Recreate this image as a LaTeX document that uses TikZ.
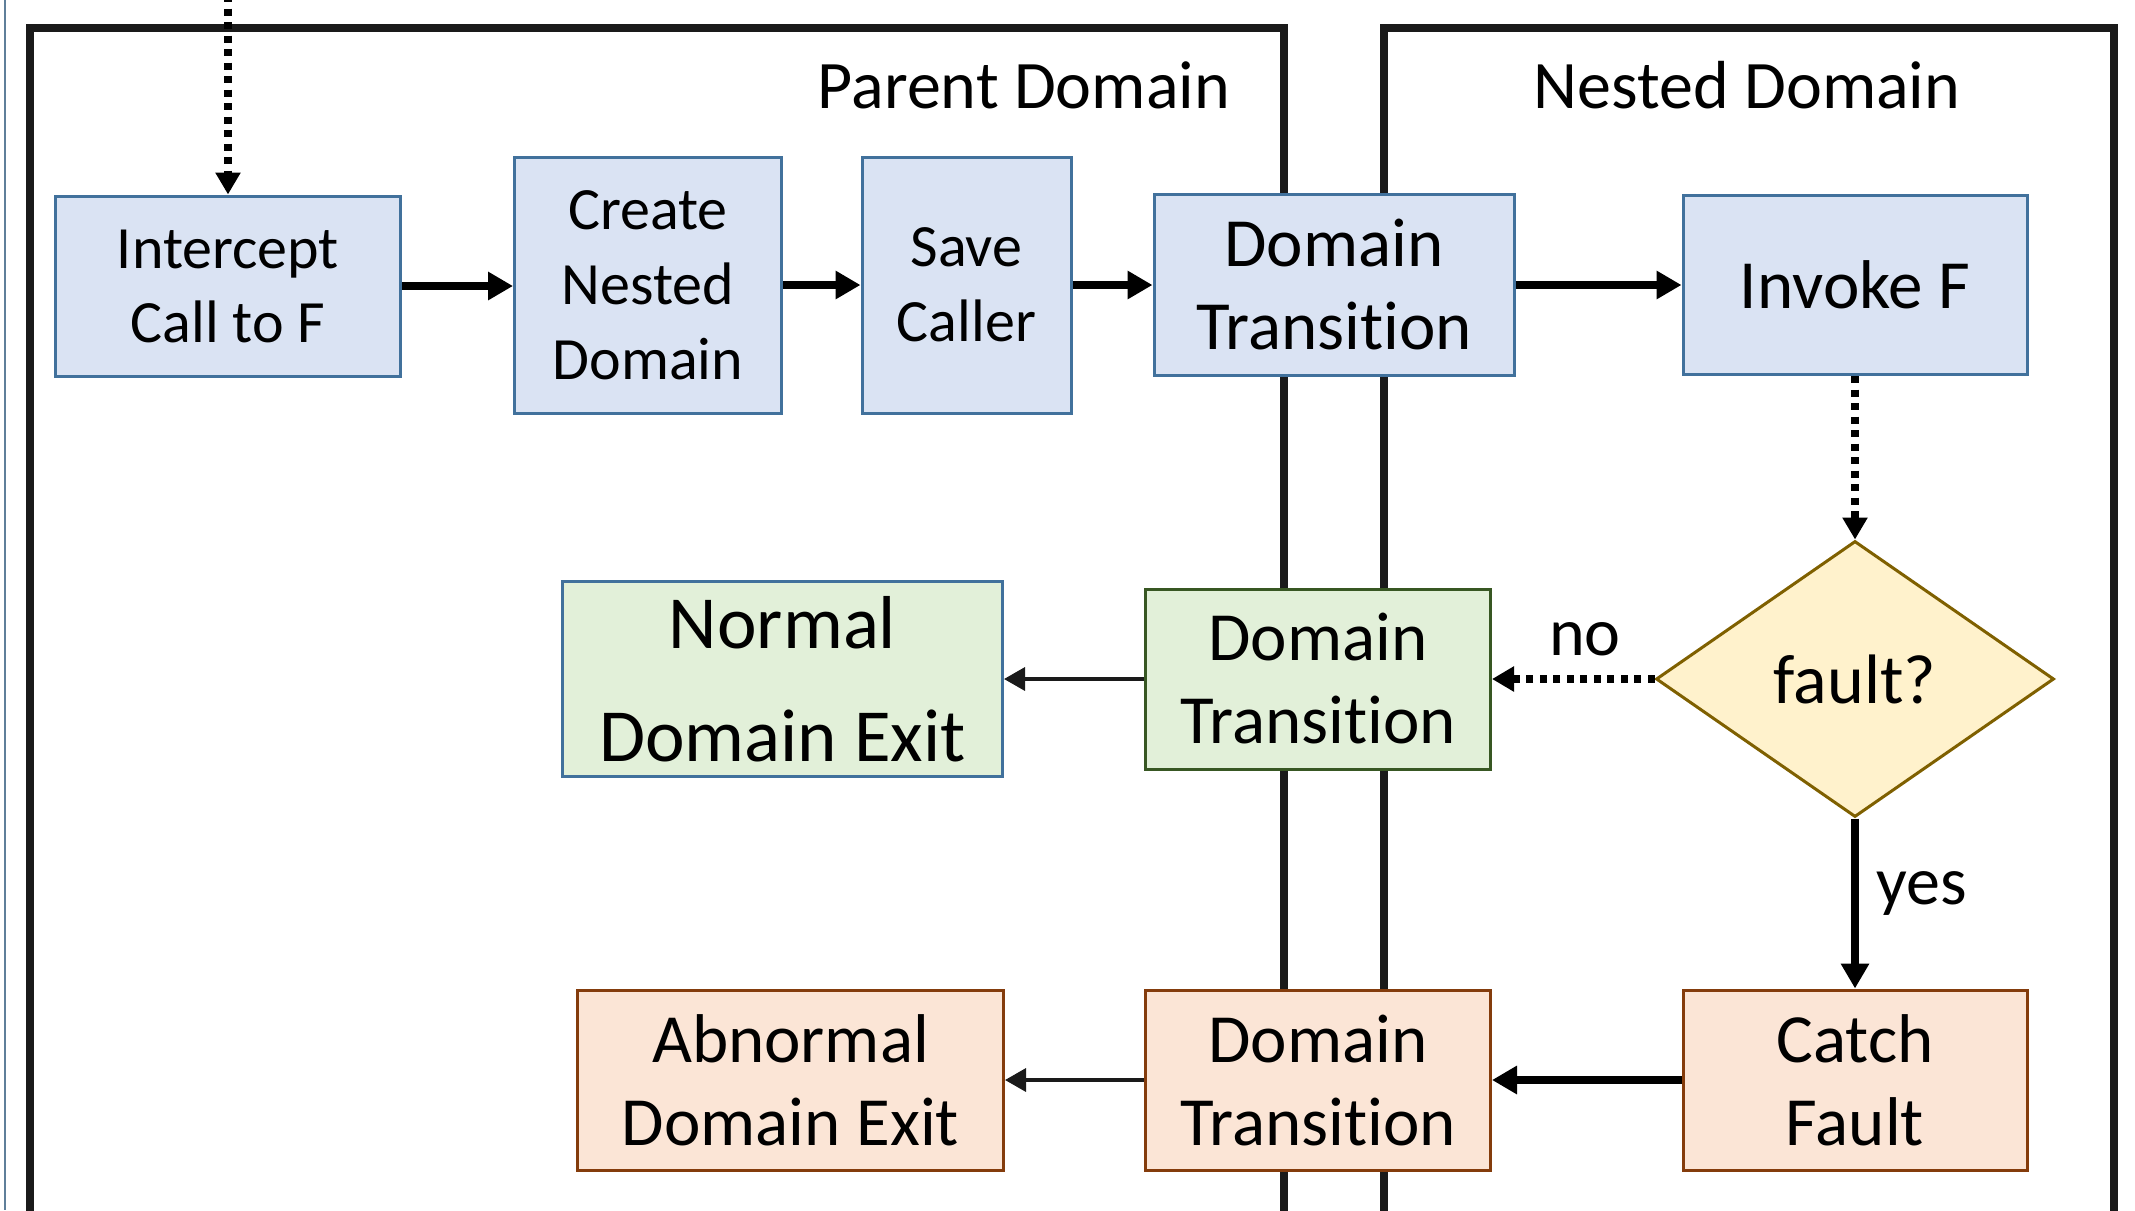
\documentclass[tikz,border=0pt]{standalone}
\usepackage{fontspec}
\setmainfont{Carlito}[Ligatures=NoCommon]
\usetikzlibrary{arrows.meta,shapes.geometric}

\definecolor{framegray}{HTML}{1A1A1A}
\definecolor{edgeblue}{HTML}{5F7F9A}
\definecolor{blueline}{HTML}{41719C}
\definecolor{bluefill}{HTML}{DAE3F3}
\definecolor{greenline}{HTML}{385723}
\definecolor{greenfill}{HTML}{E2F0D9}
\definecolor{brownline}{HTML}{843C0C}
\definecolor{orangefill}{HTML}{FBE5D6}
\definecolor{goldline}{HTML}{7F6000}
\definecolor{yellowfill}{HTML}{FFF2CC}

\begin{document}
\begin{tikzpicture}[x=1pt,y=-1pt,
  box/.style={draw, line width=3pt, inner sep=0pt, align=center, text=black},
  bluebox/.style={box, draw=blueline, fill=bluefill},
  greenbox/.style={box, draw=greenline, fill=greenfill},
  exitbox/.style={box, draw=blueline, fill=greenfill},
  orangebox/.style={box, draw=brownline, fill=orangefill},
  decision/.style={diamond, draw=goldline, fill=yellowfill, line width=3pt, inner sep=0pt, text=black},
  fsmall/.style={font=\fontsize{60}{74}\selectfont},
  fmid/.style={font=\fontsize{60}{75}\selectfont},
  flarge/.style={font=\fontsize{69}{83}\selectfont},
  fexit/.style={font=\fontsize{75}{113}\selectfont},
  title/.style={font=\fontsize{68}{80}\selectfont, anchor=base, inner sep=0pt},
  tag/.style={font=\fontsize{68}{80}\selectfont, anchor=base, inner sep=0pt},
  frame/.style={line width=7.5pt, draw=framegray, line join=miter},
  thickarrow/.style={line width=8pt, draw=black, -{Triangle[length=25pt,width=27pt]}},
  thinarrow/.style={line width=3.5pt, draw=framegray, -{Triangle[length=21pt,width=23pt]}},
  dotarrow/.style={line width=7.5pt, draw=black, dash pattern=on 7pt off 6.5pt, -{Triangle[length=22pt,width=24pt]}}
]
\useasboundingbox (0,0) rectangle (2135,1210);

% thin rule along the left edge
\draw[line width=2.5pt, draw=edgeblue] (5,0) -- (5,1210);

% domain frames, open at the bottom
\draw[frame] (30,1240) -- (30,28) -- (1284,28) -- (1284,1240);
\draw[frame] (1384,1240) -- (1384,28) -- (2114,28) -- (2114,1240);

\node[title] (parentlbl) at (1024,108) {Parent Domain};
\node[title] (nestedlbl) at (1747,108) {Nested Domain};

% top row
\node[bluebox, fsmall, minimum width=345, minimum height=180] (intercept) at (228,286) {Intercept\\Call to F};
\node[bluebox, fmid, minimum width=267, minimum height=256] (create) at (648,285) {Create\\Nested\\Domain};
\node[bluebox, fmid, minimum width=209, minimum height=256] (save) at (966.5,285) {Save\\Caller};
\node[bluebox, flarge, minimum width=360, minimum height=181] (dtin) at (1334,285) {Domain\\Transition};
\node[bluebox, flarge, minimum width=344, minimum height=179] (invoke) at (1855,285) {Invoke F};

% decision
\node[decision, font=\fontsize{70}{80}\selectfont, minimum width=398, minimum height=276] (fault) at (1855,679) {fault?};

% normal exit row
\node[greenbox, flarge, minimum width=345, minimum height=180] (dtok) at (1318,679) {Domain\\Transition};
\node[exitbox, fexit, minimum width=440, minimum height=195] (normal) at (782.5,679) {Normal\\Domain Exit};

% fault row
\node[orangebox, flarge, minimum width=344, minimum height=180] (catch) at (1855,1080) {Catch\\Fault};
\node[orangebox, flarge, minimum width=345, minimum height=180] (dtfault) at (1318,1080) {Domain\\Transition};
\node[orangebox, flarge, minimum width=426, minimum height=180] (abnormal) at (790.5,1080) {Abnormal\\Domain Exit};

% connectors
\coordinate (entry) at (228,-5);
\draw[dotarrow] (entry) -- (intercept.north);
\draw[thickarrow] (intercept.east) -- (intercept.east -| create.west);
\draw[thickarrow] (create.east) -- (save.west);
\draw[thickarrow] (save.east) -- (dtin.west);
\draw[thickarrow] (dtin.east) -- (invoke.west);
\draw[dotarrow] (invoke.south) -- (fault.north);
\draw[dotarrow] (fault.west) -- (dtok.east);
\draw[thickarrow] (fault.south) -- (catch.north);
\draw[thickarrow] (catch.west) -- (dtfault.east);
\draw[thinarrow] (dtok.west) -- (normal.east);
\draw[thinarrow] (dtfault.west) -- (abnormal.east);

\node[tag] (nolbl) at (1585,655) {no};
\node[tag] (yeslbl) at (1922,904) {yes};
\end{tikzpicture}
\end{document}
